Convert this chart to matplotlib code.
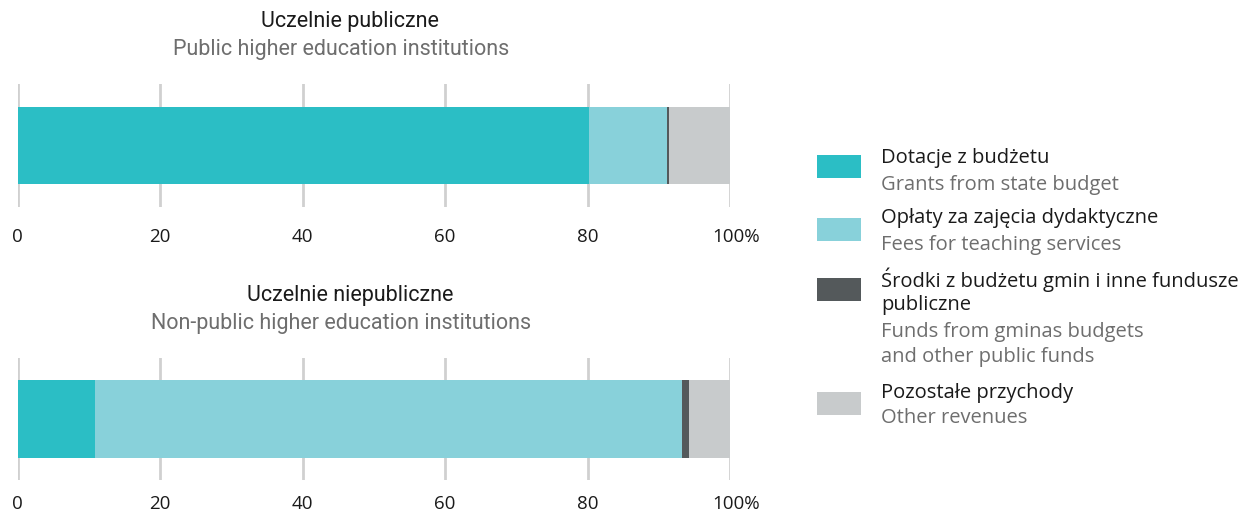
import matplotlib
matplotlib.use("Agg")
import matplotlib.pyplot as plt
from matplotlib.patches import Rectangle
import matplotlib.transforms as mtransforms

plt.rcParams['font.family'] = ['Open Sans', 'DejaVu Sans']

# ---- data ----
titles_pl = ["Uczelnie publiczne", "Uczelnie niepubliczne"]
titles_en = ["Public higher education institutions", "Non-public higher education institutions"]
series_pl = ["Dotacje z budżetu", "Opłaty za zajęcia dydaktyczne",
             "Środki z budżetu gmin i inne fundusze\npubliczne", "Pozostałe przychody"]
series_en = ["Grants from state budget", "Fees for teaching services",
             "Funds from gminas budgets\nand other public funds", "Other revenues"]
public_vals = [80.2, 11.0, 0.3, 8.5]
nonpublic_vals = [10.9, 82.4, 0.9, 5.8]
ticks = [0, 20, 40, 60, 80, 100]
tick_labels = ["0", "20", "40", "60", "80", "100%"]

colors = ["#2bbec5", "#88d1da", "#54595b", "#c8cbcc"]
TXT = "#1a1a1a"
SUB = "#6e6e6e"

W, H = 1255, 515
fig = plt.figure(figsize=(W / 100, H / 100), dpi=100)

def fx(px):
    return px / W

def fy(py):
    return 1 - py / H

title_font = ['Roboto', 'DejaVu Sans']

def make_panel(top_px, bot_px, vals, t_pl, t_en, t1_y, t2_y, pad):
    ax = fig.add_axes([fx(17.7), fy(bot_px), fx(730) - fx(17.7), fy(top_px) - fy(bot_px)])
    left = 0
    for v, c in zip(vals, colors):
        ax.barh(0, v, left=left, height=0.634, color=c, edgecolor='none', zorder=2)
        left += v
    ax.set_xlim(0, 100)
    ax.set_ylim(-0.5, 0.5)
    ax.set_yticks([])
    ax.set_xticks(ticks)
    ax.set_xticklabels(tick_labels)
    ax.grid(axis='x', color='#d0d0d0', linewidth=2, zorder=1)
    for s in ax.spines.values():
        s.set_visible(False)
    ax.tick_params(axis='x', length=0, pad=pad, labelsize=13.5, labelcolor=TXT)
    lbls = ax.get_xticklabels()
    off = mtransforms.ScaledTranslation(6 / 100, 0, fig.dpi_scale_trans)
    lbls[-1].set_transform(lbls[-1].get_transform() + off)
    fig.text(fx(350), fy(t1_y), t_pl, ha='center', va='center', fontsize=15.5,
             color=TXT, family=title_font)
    fig.text(fx(341), fy(t2_y), t_en, ha='center', va='center', fontsize=15.5,
             color=SUB, family=title_font)
    return ax

make_panel(84, 207, public_vals, titles_pl[0], titles_en[0], 22, 49, 15)
make_panel(358, 480, nonpublic_vals, titles_pl[1], titles_en[1], 295, 323, 11)

# ---- legend ----
patch_centers = [166, 229, 289, 403]
pl_y = [158, 218, 280, 393]
en_y = [185, 245, 332, 418]
line_h = 25
for i in range(4):
    yc = patch_centers[i]
    fig.patches.append(Rectangle((fx(817), fy(yc + 11.5)), fx(44), 23 / H,
                                 transform=fig.transFigure, facecolor=colors[i],
                                 edgecolor='none'))
    for k, line in enumerate(series_pl[i].split("\n")):
        fig.text(fx(881), fy(pl_y[i] + k * line_h), line, ha='left', va='center',
                 fontsize=14.5, color=TXT)
    for k, line in enumerate(series_en[i].split("\n")):
        fig.text(fx(881), fy(en_y[i] + k * line_h), line, ha='left', va='center',
                 fontsize=14.5, color=SUB)

fig.savefig("out.png", dpi=100)
